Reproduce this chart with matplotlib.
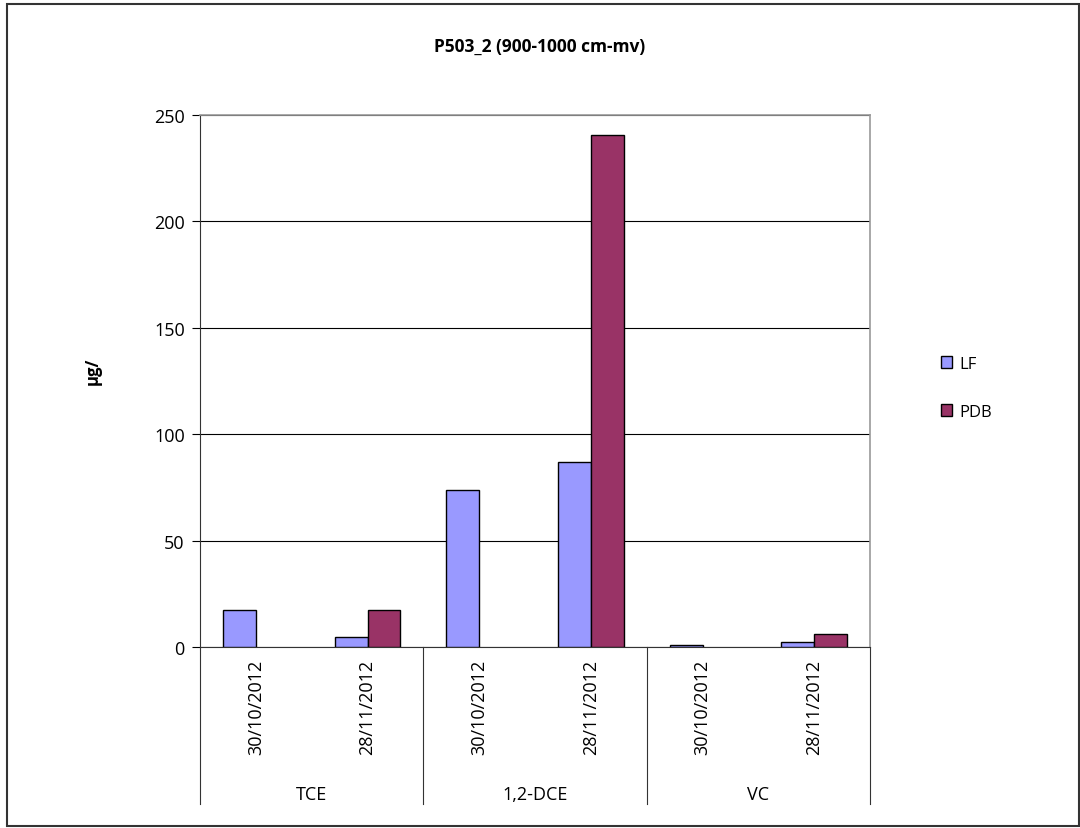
import matplotlib
matplotlib.use("Agg")
import matplotlib.pyplot as plt
import matplotlib.patches as patches
import matplotlib.transforms as transforms
import numpy as np

plt.rcParams['font.family'] = ['Open Sans', 'DejaVu Sans']

# data: two sampling dates per compound
compounds = ["TCE", "1,2-DCE", "VC"]
dates = ["30/10/2012", "28/11/2012"]
lf = [17.5, 4.8, 74, 87, 0.9, 2.2]
pdb = [0, 17.5, 0, 240.5, 0, 6]

lf_color = "#9999FF"
pdb_color = "#993366"

fig = plt.figure(figsize=(10.8, 8.29), dpi=100)
ax = fig.add_axes([0.1852, 0.2183, 0.6204, 0.6418])

x = np.arange(len(lf))
w = 0.295
# no outline for empty bars
lf_lw = [1 if v > 0 else 0 for v in lf]
pdb_lw = [1 if v > 0 else 0 for v in pdb]
ax.bar(x - w / 2, lf, w, color=lf_color, edgecolor="black", linewidth=lf_lw, zorder=3)
ax.bar(x + w / 2, pdb, w, color=pdb_color, edgecolor="black", linewidth=pdb_lw, zorder=3)

ax.set_xlim(-0.5, len(lf) - 0.5)
ax.set_ylim(0, 250)
ax.set_yticks([0, 50, 100, 150, 200, 250])
ax.yaxis.grid(True, color="black", linewidth=0.8, zorder=0)
ax.tick_params(axis="y", labelsize=13, length=6, width=0.8, pad=5)
ax.set_xticks([])

for side in ["top", "right"]:
    ax.spines[side].set_color("#999999")
    ax.spines[side].set_linewidth(1.2)
ax.spines["left"].set_color("#333333")
ax.spines["bottom"].set_color("#333333")

# category labels below the axis
trans = transforms.blended_transform_factory(ax.transData, ax.transAxes)
for i in range(len(lf)):
    ax.text(i, -0.022, dates[i % 2], rotation=90, ha="center", va="top",
            fontsize=13, transform=trans)
for g, name in enumerate(compounds):
    ax.text(2 * g + 0.5, -0.276, name, ha="center", va="center",
            fontsize=13, transform=trans)
for b in [-0.5, 1.5, 3.5, 5.5]:
    ax.plot([b, b], [0, -0.295], color="#333333", linewidth=0.8,
            transform=trans, clip_on=False)

ax.set_ylabel("μg/", fontsize=12, fontweight="bold")
ax.yaxis.set_label_coords(-0.146, 0.52)
fig.text(0.5, 0.943, "P503_2 (900-1000 cm-mv)", ha="center", va="center",
         fontsize=12.5, fontweight="bold")

lf_patch = patches.Patch(facecolor=lf_color, edgecolor="black", label="LF")
pdb_patch = patches.Patch(facecolor=pdb_color, edgecolor="black", label="PDB")
fig.legend(handles=[lf_patch, pdb_patch], loc="center left",
           bbox_to_anchor=(0.857, 0.531), frameon=False, fontsize=12,
           handlelength=0.7, handleheight=0.7, handletextpad=0.4,
           labelspacing=1.9)

# outer frame
fig.patches.append(patches.Rectangle((0.0065, 0.002), 0.9925, 0.992,
                                     transform=fig.transFigure, fill=False,
                                     edgecolor="#333333", linewidth=1.5))

plt.savefig("out.png", dpi=100)
